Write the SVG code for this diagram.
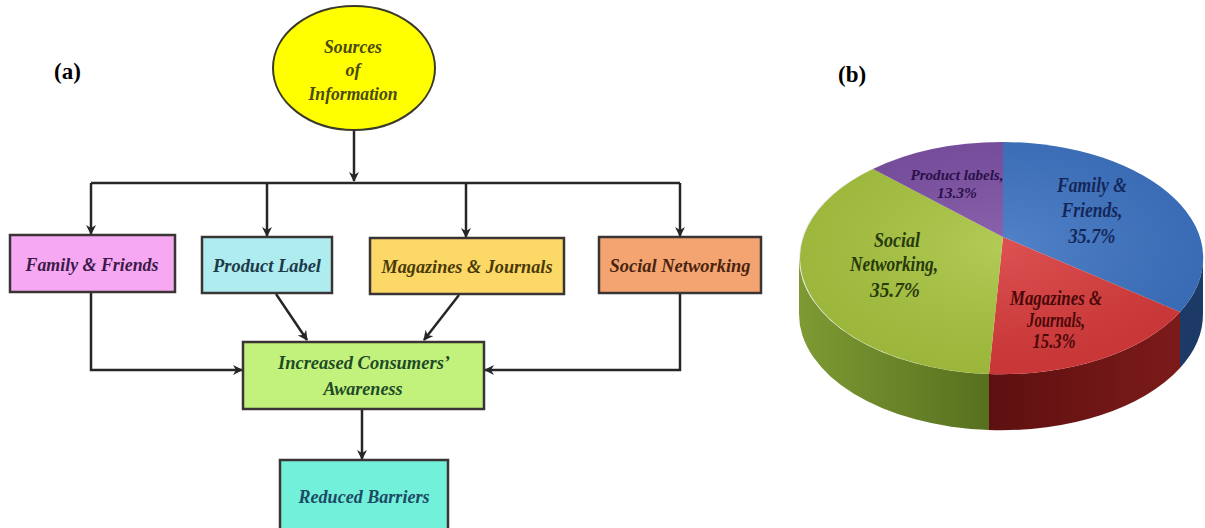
<svg xmlns="http://www.w3.org/2000/svg" width="1205" height="528" viewBox="0 0 1205 528">
<defs>
<style>
.box{stroke:#3a3434;stroke-width:2.5}
.bt{font-family:"Liberation Serif","Times New Roman",serif;font-weight:bold;font-style:italic;font-size:18px;text-anchor:middle}
.pl{font-family:"Liberation Serif","Times New Roman",serif;font-weight:bold;font-style:italic;text-anchor:middle}
.lab{font-family:"Liberation Serif","Times New Roman",serif;font-weight:bold;font-size:23px}
.con{fill:none;stroke:#262626;stroke-width:2.5}
</style>
<marker id="ah" markerWidth="10" markerHeight="10" refX="9" refY="5" orient="auto" markerUnits="userSpaceOnUse">
<path d="M0,0 L10,5 L0,10 L3,5 Z" fill="#262626"/>
</marker>
<linearGradient id="gside" x1="0" y1="0" x2="1" y2="0">
<stop offset="0" stop-color="#7e9a33"/><stop offset="1" stop-color="#56701f"/>
</linearGradient>
<linearGradient id="rside" x1="0" y1="0" x2="1" y2="0">
<stop offset="0" stop-color="#5e1010"/><stop offset="1" stop-color="#7c1a1a"/>
</linearGradient>
<radialGradient id="shine" cx="0.5" cy="0.45" r="0.6">
<stop offset="0" stop-color="#fff" stop-opacity="0.12"/><stop offset="1" stop-color="#000" stop-opacity="0.08"/>
</radialGradient>
</defs>
<rect width="1205" height="528" fill="#ffffff"/>

<text class="lab" x="54" y="79">(a)</text>
<text class="lab" x="838" y="82">(b)</text>

<g id="connectors">
<line class="con" x1="354" y1="130" x2="354" y2="181" marker-end="url(#ah)"/>
<line class="con" x1="91" y1="183" x2="680" y2="183"/>
<line class="con" x1="91" y1="183" x2="91" y2="234" marker-end="url(#ah)"/>
<line class="con" x1="267" y1="183" x2="267" y2="236" marker-end="url(#ah)"/>
<line class="con" x1="466" y1="183" x2="466" y2="237" marker-end="url(#ah)"/>
<line class="con" x1="680" y1="183" x2="680" y2="236" marker-end="url(#ah)"/>
<polyline class="con" points="91,293 91,370 242,370" marker-end="url(#ah)"/>
<polyline class="con" points="680,294 680,370 485,370" marker-end="url(#ah)"/>
<line class="con" x1="276" y1="294" x2="307" y2="340" marker-end="url(#ah)"/>
<line class="con" x1="459" y1="295" x2="424" y2="340" marker-end="url(#ah)"/>
<line class="con" x1="362" y1="409" x2="362" y2="459" marker-end="url(#ah)"/>
</g>

<g id="sources">
<ellipse cx="354" cy="68" rx="81" ry="62" fill="#ffff00" stroke="#3a3a2a" stroke-width="2"/>
<text class="bt" x="353" y="53" fill="#4a4a14" font-size="16" textLength="58" lengthAdjust="spacingAndGlyphs">Sources</text>
<text class="bt" x="353" y="76" fill="#4a4a14" font-size="16">of</text>
<text class="bt" x="353" y="100" fill="#4a4a14" font-size="16" textLength="89" lengthAdjust="spacingAndGlyphs">Information</text>
</g>

<g id="family">
<rect class="box" x="10" y="235" width="165" height="57" fill="#f6a8f3"/>
<text class="bt" x="92" y="271" fill="#3c1a48" textLength="133" lengthAdjust="spacingAndGlyphs">Family &amp; Friends</text>
</g>
<g id="product">
<rect class="box" x="202" y="237" width="130" height="56" fill="#aeecf0"/>
<text class="bt" x="267" y="272" fill="#1c3a48" textLength="108" lengthAdjust="spacingAndGlyphs">Product Label</text>
</g>
<g id="magazines">
<rect class="box" x="370" y="238" width="194" height="56" fill="#fcd867"/>
<text class="bt" x="467" y="273" fill="#4a3a08" textLength="171" lengthAdjust="spacingAndGlyphs">Magazines &amp; Journals</text>
</g>
<g id="social">
<rect class="box" x="599" y="237" width="162" height="56" fill="#f4a470"/>
<text class="bt" x="680" y="272" fill="#4a2410" textLength="141" lengthAdjust="spacingAndGlyphs">Social Networking</text>
</g>
<g id="awareness">
<rect class="box" x="243" y="342" width="241" height="67" fill="#c2f27b"/>
<text class="bt" x="364" y="369" fill="#1e4a28" textLength="172" lengthAdjust="spacingAndGlyphs">Increased Consumers’</text>
<text class="bt" x="363" y="395" fill="#1e4a28" textLength="79" lengthAdjust="spacingAndGlyphs">Awareness</text>
</g>
<g id="barriers">
<rect class="box" x="280" y="460" width="168" height="75" fill="#72f0da"/>
<text class="bt" x="364" y="503" fill="#1c4a64" textLength="131" lengthAdjust="spacingAndGlyphs">Reduced Barriers</text>
</g>

<g id="pie">
<path d="M799,258 A202,116 0 0 0 989,374 L989,430 A202,116 0 0 1 799,314 Z" fill="url(#gside)"/>
<path d="M989,374 A202,116 0 0 0 1180,312 L1180,368 A202,116 0 0 1 989,430 Z" fill="url(#rside)"/>
<path d="M1180,312 A202,116 0 0 0 1203,258 L1203,314 A202,116 0 0 1 1180,368 Z" fill="#1d3a66"/>
<path d="M1003,237 L1003,142 A202,116 0 0 1 1180,312 Z" fill="#3b72c2"/>
<path d="M1003,237 L1180,312 A202,116 0 0 1 989,374 Z" fill="#d8393a"/>
<path d="M1003,237 L989,374 A202,116 0 0 1 873,169 Z" fill="#a8c43e"/>
<path d="M1003,237 L873,169 A202,116 0 0 1 1003,142 Z" fill="#7b4ea3"/>
<ellipse cx="1001" cy="258" rx="202" ry="116" fill="url(#shine)"/>
<text class="pl" x="957" y="180" font-size="15" fill="#2a1048" textLength="93" lengthAdjust="spacingAndGlyphs">Product labels,</text>
<text class="pl" x="957" y="198" font-size="15" fill="#2a1048" textLength="40" lengthAdjust="spacingAndGlyphs">13.3%</text>
<text class="pl" x="1092" y="192" font-size="22" fill="#14275a" textLength="70" lengthAdjust="spacingAndGlyphs">Family &amp;</text>
<text class="pl" x="1092" y="217" font-size="22" fill="#14275a" textLength="61" lengthAdjust="spacingAndGlyphs">Friends,</text>
<text class="pl" x="1092" y="243" font-size="22" fill="#14275a" textLength="47" lengthAdjust="spacingAndGlyphs">35.7%</text>
<text class="pl" x="897" y="247" font-size="22" fill="#263a0c" textLength="46" lengthAdjust="spacingAndGlyphs">Social</text>
<text class="pl" x="894" y="271" font-size="22" fill="#263a0c" textLength="88" lengthAdjust="spacingAndGlyphs">Networking,</text>
<text class="pl" x="895" y="297" font-size="22" fill="#263a0c" textLength="50" lengthAdjust="spacingAndGlyphs">35.7%</text>
<text class="pl" x="1056" y="305" font-size="20" fill="#4a0808" textLength="92" lengthAdjust="spacingAndGlyphs">Magazines &amp;</text>
<text class="pl" x="1056" y="327" font-size="20" fill="#4a0808" textLength="58" lengthAdjust="spacingAndGlyphs">Journals,</text>
<text class="pl" x="1054" y="348" font-size="20" fill="#4a0808" textLength="43" lengthAdjust="spacingAndGlyphs">15.3%</text>
</g>
</svg>
